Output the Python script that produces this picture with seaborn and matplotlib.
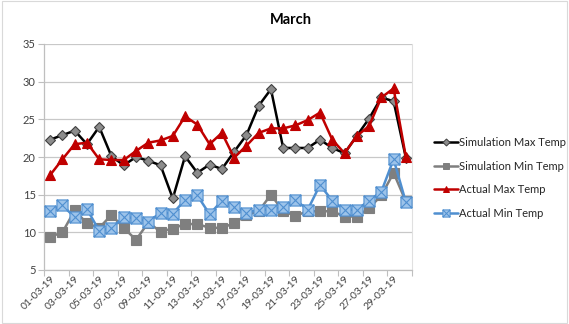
import numpy as np
import pandas as pd
import matplotlib
matplotlib.use("Agg")
import matplotlib.pyplot as plt
from matplotlib.path import Path
from matplotlib.lines import Line2D
import seaborn as sns

dates = [f"{d:02d}-03-19" for d in range(1, 31)]

sim_max = [22.3, 22.9, 23.5, 21.7, 24.0, 20.1, 18.9, 20.0, 19.5, 18.9,
           14.5, 20.1, 17.9, 19.0, 18.4, 20.7, 22.9, 26.8, 29.0, 21.2,
           21.2, 21.2, 22.3, 21.2, 20.5, 22.8, 25.1, 27.9, 27.4, 19.9]
sim_min = [9.4, 10.0, 12.9, 11.2, 10.6, 12.3, 10.6, 9.0, 11.3, 10.1,
           10.5, 11.1, 11.1, 10.6, 10.6, 11.2, 12.3, 12.8, 15.0, 12.8,
           12.2, 12.8, 12.8, 12.8, 12.1, 12.1, 13.2, 14.9, 17.9, 14.1]
act_max = [17.6, 19.7, 21.7, 21.9, 19.7, 19.6, 19.6, 20.8, 21.9, 22.2,
           22.8, 25.4, 24.3, 21.7, 23.2, 19.9, 21.5, 23.2, 23.8, 23.8,
           24.2, 24.9, 25.9, 22.3, 20.5, 22.8, 24.1, 27.9, 29.1, 20.0]
act_min = [12.8, 13.6, 12.0, 13.1, 10.2, 10.6, 12.0, 11.9, 11.4, 12.6,
           12.5, 14.3, 14.9, 12.4, 14.2, 13.4, 12.6, 13.0, 13.0, 13.4,
           14.3, 13.0, 16.3, 14.2, 13.0, 13.0, 14.2, 15.4, 19.7, 14.0]

series_names = ["Simulation Max Temp", "Simulation Min Temp",
                "Actual Max Temp", "Actual Min Temp"]

df = pd.DataFrame({"day": np.arange(len(dates)), "date": dates,
                   series_names[0]: sim_max, series_names[1]: sim_min,
                   series_names[2]: act_max, series_names[3]: act_min})

sns.set_theme(style="white")
plt.rcParams["font.family"] = ["Lato", "DejaVu Sans"]

# square with a cross through it
box_x = Path([(-1, -1), (1, -1), (1, 1), (-1, 1), (-1, -1),
              (-1, -1), (1, 1), (-1, 1), (1, -1)],
             [Path.MOVETO, Path.LINETO, Path.LINETO, Path.LINETO, Path.CLOSEPOLY,
              Path.MOVETO, Path.LINETO, Path.MOVETO, Path.LINETO])

styles = {
    series_names[0]: dict(color="#000000", marker="D", mfc="#8c8c8c", mec="#404040", ms=5.5),
    series_names[1]: dict(color="#7f7f7f", marker="s", mfc="#7f7f7f", mec="#7f7f7f", ms=6.5),
    series_names[2]: dict(color="#c00000", marker="^", mfc="#c00000", mec="#c00000", ms=7),
    series_names[3]: dict(color="#4f8fd0", marker=box_x, mfc="#9cc3ea", mec="#4f8fd0", ms=8),
}

fig = plt.figure(figsize=(5.69, 3.24), dpi=100)
ax = fig.add_axes([44 / 569, 1 - 270 / 324, 368 / 569, 226 / 324])

handles = []
for name in series_names:
    st = styles[name]
    sns.lineplot(data=df, x="day", y=name, ax=ax, color=st["color"], lw=1.8,
                 marker=st["marker"], markersize=st["ms"],
                 markerfacecolor=st["mfc"], markeredgecolor=st["mec"],
                 markeredgewidth=0.8, zorder=3)
    handles.append(Line2D([], [], color=st["color"], lw=1.8, marker=st["marker"],
                          markersize=st["ms"] * 0.65, markerfacecolor=st["mfc"],
                          markeredgecolor=st["mec"], markeredgewidth=0.7))

ax.set_xlim(-0.5, len(dates) - 0.5)
ax.set_ylim(5, 35)
ax.set_yticks(np.arange(5, 36, 5))
ax.yaxis.grid(True, color="#c8c8c8", lw=0.9)
ax.set_axisbelow(True)

ax.set_xticks(np.arange(0, len(dates), 2))
ax.set_xticklabels(dates[::2], rotation=45, ha="right", rotation_mode="anchor",
                   fontsize=7.5, color="#404040")
ax.set_xticks(np.arange(-0.5, len(dates), 2), minor=True)
ax.tick_params(axis="x", which="major", length=0, pad=3)
ax.tick_params(axis="x", which="minor", length=4, color="#bfbfbf", width=0.8, bottom=True)
ax.tick_params(axis="y", labelsize=8, colors="#404040", length=4, width=0.8, left=True, pad=2)
ax.tick_params(axis="y", color="#bfbfbf")

for side in ["left", "bottom"]:
    ax.spines[side].set_color("#bfbfbf")
    ax.spines[side].set_linewidth(0.9)
ax.spines["top"].set_visible(False)
ax.spines["right"].set_color("#e0e0e0")
ax.spines["right"].set_linewidth(0.8)
ax.set_xlabel("")
ax.set_ylabel("")

fig.text(291 / 569, 1 - 20 / 324, "March", ha="center", va="center",
         fontsize=10.5, fontweight="bold", color="#000000")

fig.legend(handles, series_names, loc="center left",
           bbox_to_anchor=(428 / 569, 1 - 178 / 324), frameon=False,
           fontsize=8, handlelength=2.2, handletextpad=0.1, labelspacing=1.15,
           borderpad=0)

# chart frame
fig.patches.append(plt.Rectangle((0.003, 0.003), 0.994, 0.994, transform=fig.transFigure,
                                 fill=False, edgecolor="#d9d9d9", lw=0.8))

fig.savefig("out.png", dpi=100)
